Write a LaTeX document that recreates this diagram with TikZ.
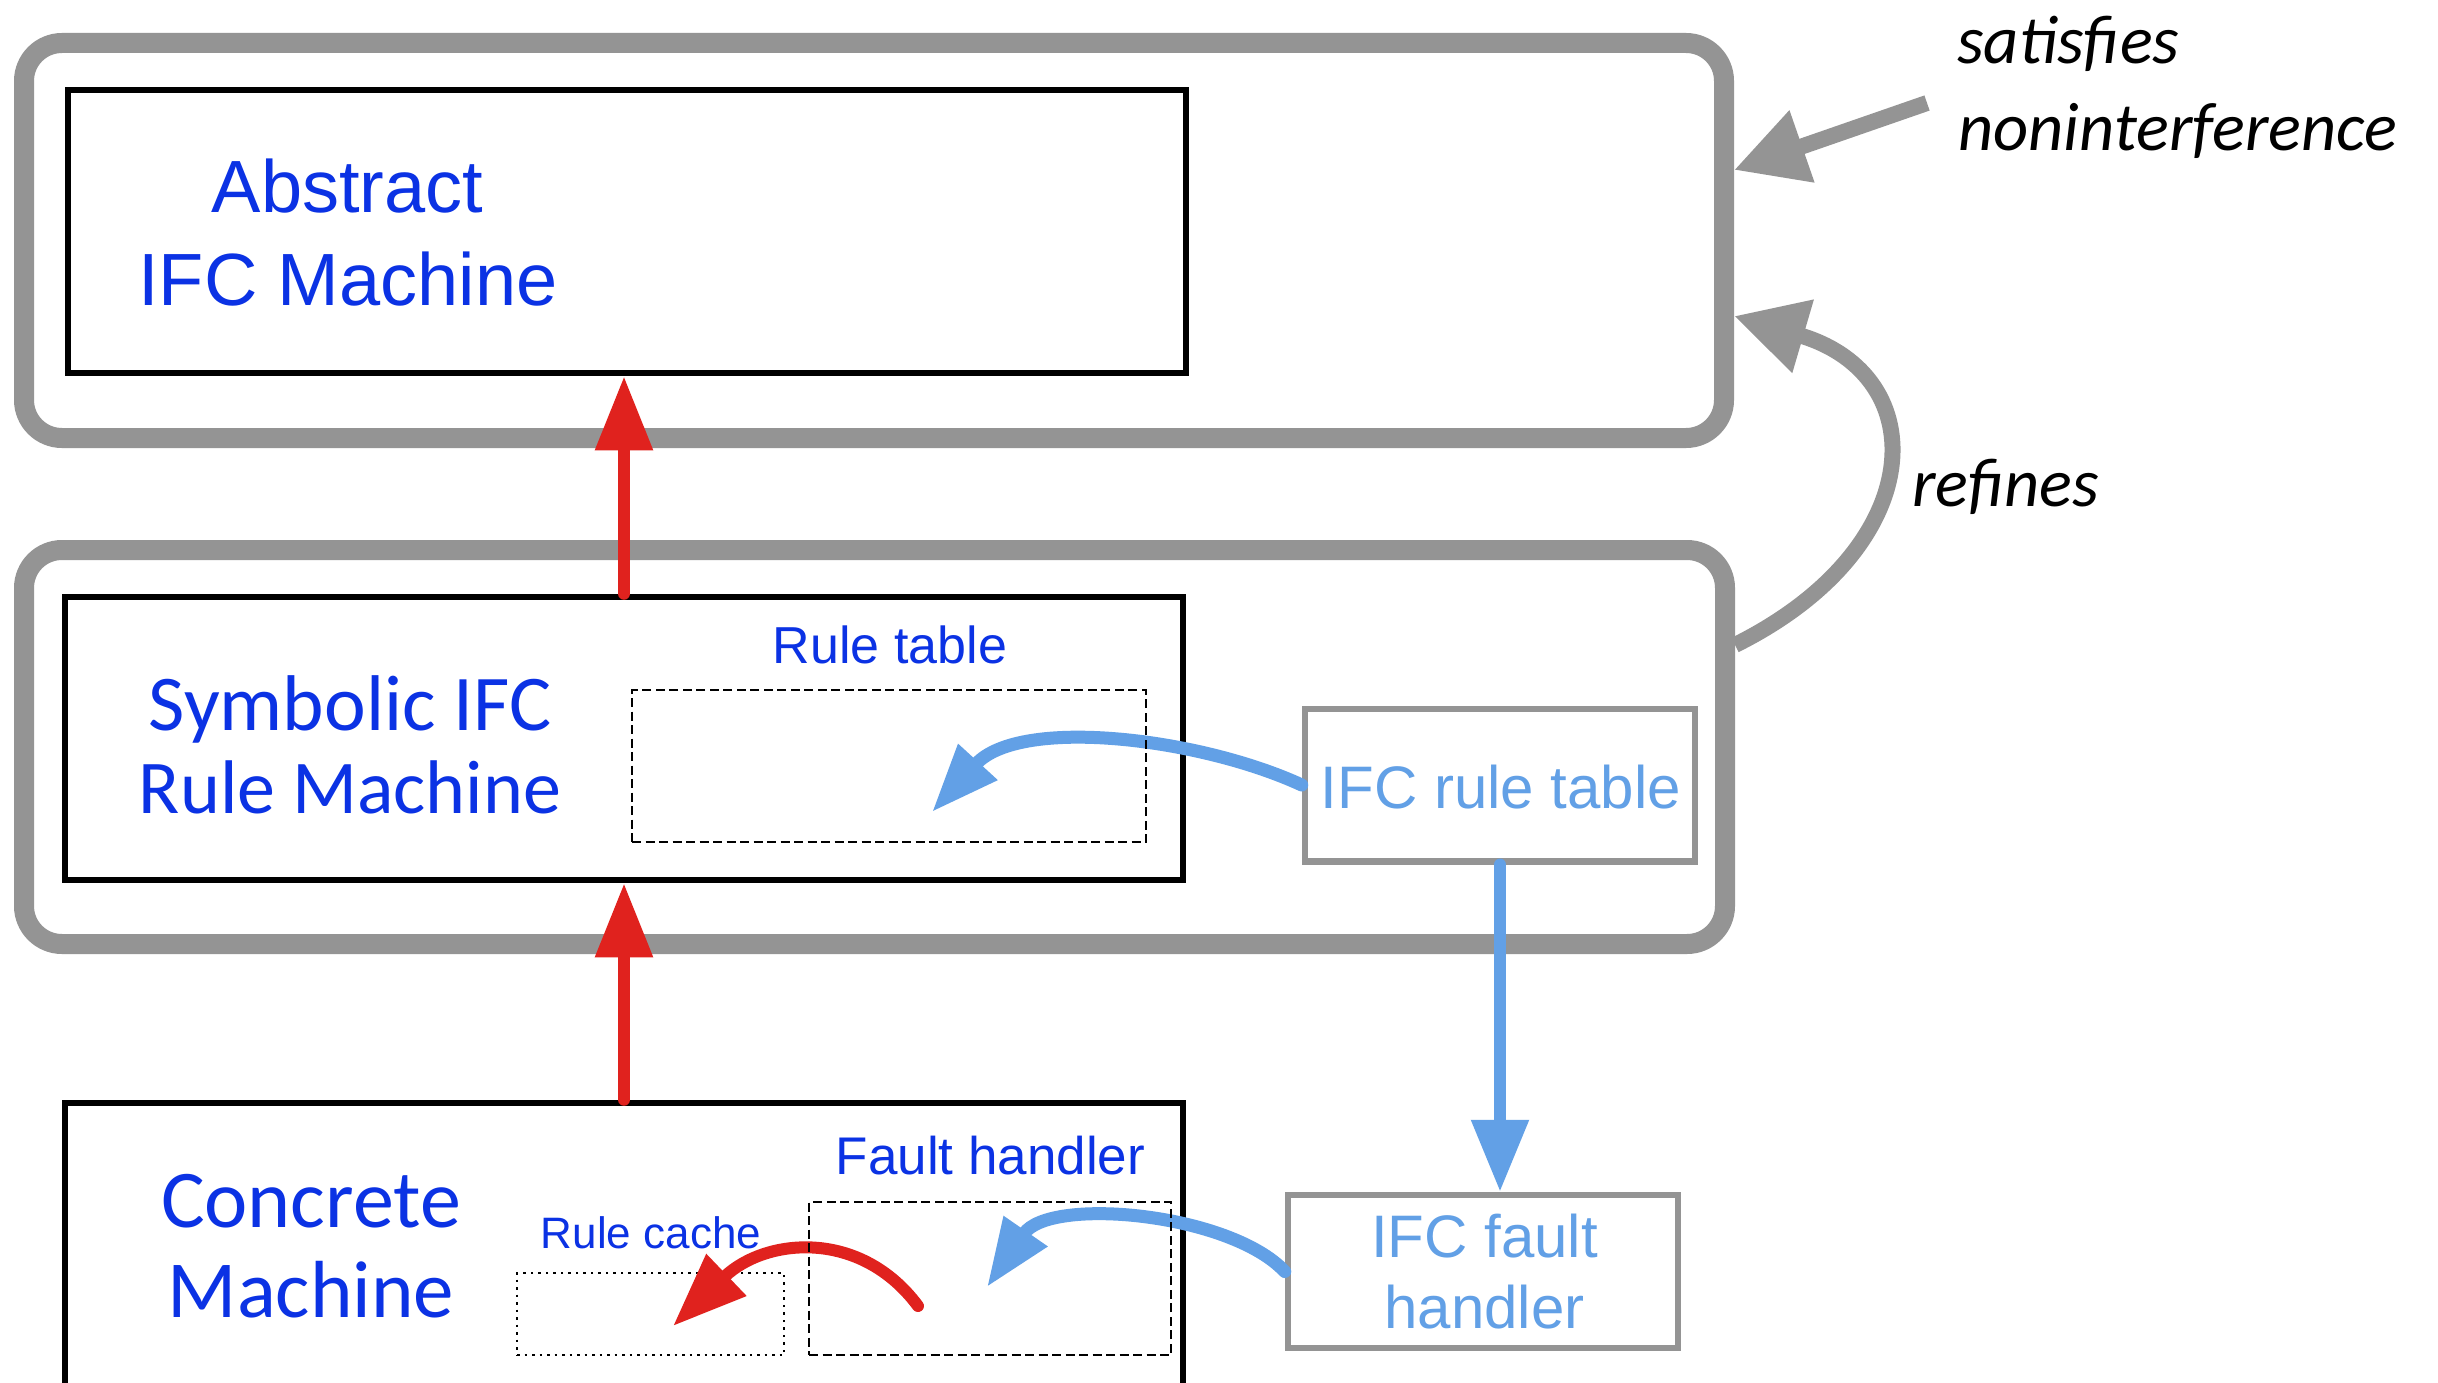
\documentclass[tikz,border=0pt]{standalone}
\usepackage{fontspec}
\setmainfont{Liberation Sans}
\newfontfamily\gill{Carlito}
\usetikzlibrary{arrows.meta}
\definecolor{txtblue}{HTML}{0B32E4}
\definecolor{lblue}{HTML}{62A0E6}
\definecolor{gframe}{HTML}{949494}
\definecolor{arrred}{HTML}{E0221E}
\begin{document}
\begin{tikzpicture}[x=1pt,y=-1pt,
  graybox/.style={draw=gframe, line width=20pt, rounded corners=38pt, inner sep=0pt},
  machine/.style={draw=black, line width=6.5pt, inner sep=0pt},
  ifcbox/.style={draw=gframe, line width=6.5pt, inner sep=0pt},
  dashbox/.style={draw=black, line width=2pt, dash pattern=on 9pt off 4.5pt, inner sep=0pt},
  dotbox/.style={draw=black, line width=2pt, dash pattern=on 2.5pt off 5pt, inner sep=0pt},
  redarr/.style={draw=arrred, line width=12pt, line cap=round, -{Triangle[length=74pt,width=55pt]}},
  bluearr/.style={draw=lblue, line width=13pt, line cap=round, -{Triangle[length=68pt,width=50pt]}},
  bluearrv/.style={draw=lblue, line width=12pt, line cap=round, -{Triangle[length=72pt,width=55pt]}},
  grayarr/.style={draw=gframe, line width=16pt, -{Triangle[length=72pt,width=72pt]}},
  bigtxt/.style={text=txtblue, inner sep=0pt, anchor=base, font=\fontsize{74}{92}\selectfont},
  gilltxt/.style={text=txtblue, inner sep=0pt, anchor=base, font=\gill\fontsize{78}{92}\selectfont},
  lbl/.style={text=txtblue, inner sep=0pt, anchor=base},
  ifctxt/.style={text=lblue, inner sep=0pt, anchor=base, font=\fontsize{60}{70}\selectfont},
  itxt/.style={text=black, inner sep=0pt, anchor=base west, font=\gill\itshape\fontsize{68.5}{80}\selectfont}
]
\useasboundingbox (0,0) rectangle (2438,1383);
\fill[white] (0,0) rectangle (2438,1383);

% gray frames
\node[graybox, minimum width=1700pt, minimum height=395pt] (g1) at (874,240.5) {};
\node[graybox, minimum width=1701pt, minimum height=394pt] (g2) at (874.5,747) {};

% machine boxes
\node[machine, minimum width=1118pt, minimum height=283pt] (abs) at (627,231.5) {};
\node[machine, minimum width=1118pt, minimum height=283pt] (sym) at (624,738.5) {};
\node[machine, minimum width=1118pt, minimum height=320pt] (con) at (624,1263) {};

% IFC boxes
\node[ifcbox, minimum width=390pt, minimum height=152.5pt] (rt) at (1500,785) {};
\node[ifcbox, minimum width=390pt, minimum height=153pt] (fh) at (1483,1271.5) {};

% machine labels
\node[bigtxt] (abs1) at (347.5,213) {Abstract};
\node[bigtxt] (abs2) at (348,305) {IFC Machine};
\node[gilltxt, font=\gill\fontsize{79}{92}\selectfont] (sym1) at (350,730) {Symbolic IFC};
\node[gilltxt, font=\gill\fontsize{76}{92}\selectfont] (sym2) at (350,813) {Rule Machine};
\node[gilltxt, font=\gill\fontsize{82}{92}\selectfont] (con1) at (311,1227) {Concrete};
\node[gilltxt, font=\gill\fontsize{81}{92}\selectfont] (con2) at (311,1317) {Machine};

% inner labels
\node[lbl, font=\fontsize{52}{60}\selectfont] (rtl) at (890,663) {Rule table};
\node[lbl, font=\fontsize{53}{60}\selectfont] (fhl) at (990.5,1174) {Fault handler};
\node[lbl, font=\fontsize{44}{52}\selectfont] (rcl) at (651,1248) {Rule cache};

% IFC box labels
\node[ifctxt] (rtt) at (1501,808) {IFC rule table};
\node[ifctxt] (fht1) at (1484.5,1257) {IFC fault};
\node[ifctxt] (fht2) at (1484.5,1328) {handler};

% italic labels
\node[itxt] (sat1) at (1957,63.5) {satisfies};
\node[itxt] (sat2) at (1958,151) {noninterference};
\node[itxt] (ref) at (1912,506) {refines};

% coordinates
\coordinate (rtend) at (932,812);
\coordinate (fhend) at (987,1287);
\coordinate (rcstart) at (918,1306);
\coordinate (rcend) at (673,1326);
\coordinate (satstart) at (1927,103);

% dotted rule cache box (under red arrow)
\node[dotbox, minimum width=267pt, minimum height=82pt] (rc) at (650.5,1314) {};

% red refinement arrows
\draw[redarr] (sym.north) -- (sym.north |- abs.south);
\draw[redarr] (con.north) -- (con.north |- sym.south);
\draw[redarr] (rcstart) .. controls (860,1228) and (765,1238) .. (rcend);

% blue arrows
\draw[bluearr] (rt.west) .. controls (1200,738) and (1020,716) .. (rtend);
\draw[bluearrv] (rt.south) -- (rt.south |- fh.north);
\draw[bluearr] (fh.west) .. controls (1230,1213) and (1050,1196) .. (fhend);

% dashed boxes
\node[dashbox, minimum width=514pt, minimum height=152pt] (rtd) at (889,766) {};
\node[dashbox, minimum width=362pt, minimum height=153pt] (fhd) at (990,1278.5) {};

% gray arrows
\draw[grayarr] (satstart) -- ([yshift=70.5pt]g1.east);
\draw[grayarr] ([yshift=102pt]g2.east) .. controls (1930,548) and (1935,375) .. ([yshift=-75.5pt]g1.east);
\end{tikzpicture}
\end{document}
